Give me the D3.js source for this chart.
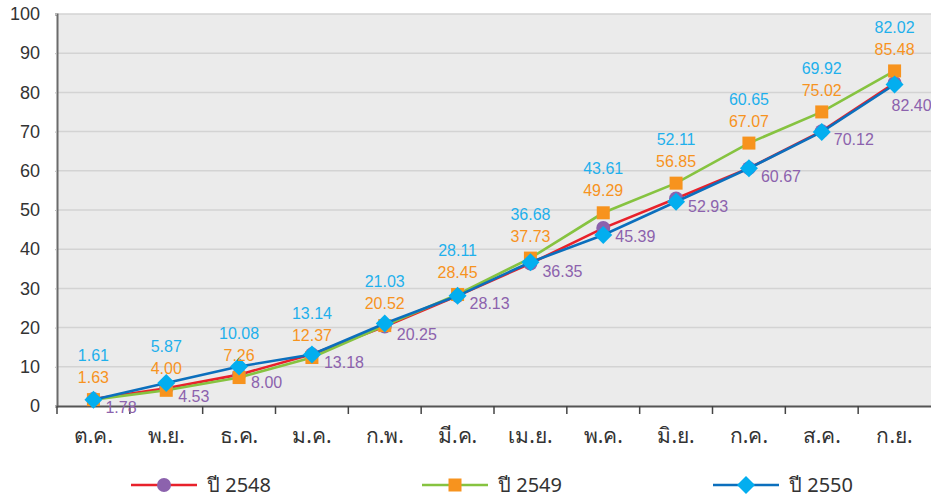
<!DOCTYPE html>
<html>
<head>
<meta charset="utf-8">
<script src="https://cdn.jsdelivr.net/npm/d3@7"></script>
<style>
  body { margin: 0; background: #fff; }
  svg { display: block; font-family: "Liberation Sans", Arial, sans-serif; }
</style>
</head>
<body>
<svg width="931" height="498"></svg>
<script>
var months = ["ต.ค.", "พ.ย.", "ธ.ค.", "ม.ค.", "ก.พ.", "มี.ค.", "เม.ย.", "พ.ค.", "มิ.ย.", "ก.ค.", "ส.ค.", "ก.ย."];
var yTicks = [0, 10, 20, 30, 40, 50, 60, 70, 80, 90, 100];
var seriesNames = ["ปี 2548", "ปี 2549", "ปี 2550"];
var y2548 = [1.78, 4.53, 8.00, 13.18, 20.25, 28.13, 36.35, 45.39, 52.93, 60.67, 70.12, 82.40];
var y2549 = [1.63, 4.00, 7.26, 12.37, 20.52, 28.45, 37.73, 49.29, 56.85, 67.07, 75.02, 85.48];
var y2550 = [1.61, 5.87, 10.08, 13.14, 21.03, 28.11, 36.68, 43.61, 52.11, 60.65, 69.92, 82.02];

var svg = d3.select("svg"),
    margin = {top: 14, right: 0, bottom: 92, left: 57},
    W = +svg.attr("width"), H = +svg.attr("height");

var x = d3.scaleBand().domain(months).range([margin.left, W - margin.right]);
var y = d3.scaleLinear().domain([0, 100]).range([H - margin.bottom, margin.top]);
var cx = function(i) { return x(months[i]) + x.bandwidth() / 2; };

var lineCol = ["#e8212b", "#86c340", "#0b6fbd"],
    markCol = ["#8c62ad", "#f7931e", "#03aeef"],
    labCol = ["#8c62ad", "#f7931e", "#1fb0ec"];

// plot background + grid
svg.append("rect")
    .attr("x", margin.left).attr("y", margin.top)
    .attr("width", W - margin.left - margin.right)
    .attr("height", y(0) - margin.top)
    .attr("fill", "#ebebeb");

svg.append("g").selectAll("line")
  .data(yTicks.filter(function(d) { return d > 0; }))
  .enter().append("line")
    .attr("x1", margin.left).attr("x2", W)
    .attr("y1", function(d) { return y(d); })
    .attr("y2", function(d) { return y(d); })
    .attr("stroke", "#d3d3d3").attr("stroke-width", 1.5);

// y axis
var yAxis = svg.append("g")
    .attr("transform", "translate(" + margin.left + ",0)")
    .call(d3.axisLeft(y).tickValues(yTicks).tickSize(2).tickPadding(15));
yAxis.select(".domain").attr("stroke", "#6b6b6b").attr("stroke-width", 2);
yAxis.selectAll(".tick line").attr("stroke", "#bbb");
yAxis.selectAll("text").attr("font-size", 18).attr("fill", "#333")
    .attr("font-family", "'Liberation Sans', Arial, sans-serif");

// x axis
var xAxis = svg.append("g")
    .attr("transform", "translate(0," + y(0) + ")")
    .call(d3.axisBottom(x).tickSize(0).tickPadding(22));
xAxis.select(".domain").attr("stroke", "#555").attr("stroke-width", 2);
xAxis.selectAll("text").attr("font-size", 21).attr("fill", "#333")
    .attr("font-family", "'Noto Sans', 'DejaVu Sans', sans-serif");
xAxis.selectAll(".bnd").data(d3.range(months.length))
  .enter().append("line")
    .attr("x1", function(i) { return x(months[i]); })
    .attr("x2", function(i) { return x(months[i]); })
    .attr("y1", 0).attr("y2", 8)
    .attr("stroke", "#444").attr("stroke-width", 1.5);

var line = d3.line()
    .x(function(d, i) { return cx(i); })
    .y(function(d) { return y(d); });

function marker(g, k, px, py) {
  if (k === 0) {
    g.append("circle").attr("cx", px).attr("cy", py).attr("r", 7).attr("fill", markCol[0]);
  } else if (k === 1) {
    g.append("rect").attr("x", px - 6.5).attr("y", py - 6.5)
      .attr("width", 13).attr("height", 13).attr("fill", markCol[1]);
  } else {
    g.append("path")
      .attr("d", "M" + px + "," + (py - 9) + "L" + (px + 9) + "," + py + "L" + px + "," + (py + 9) + "L" + (px - 9) + "," + py + "Z")
      .attr("fill", markCol[2]);
  }
}

[y2548, y2549, y2550].forEach(function(vals, k) {
  var g = svg.append("g");
  g.append("path").datum(vals)
    .attr("d", line).attr("fill", "none")
    .attr("stroke", lineCol[k]).attr("stroke-width", 2.6);
  vals.forEach(function(v, i) { marker(g, k, cx(i), y(v)); });
});

// data labels
var labels = svg.append("g").attr("font-size", 16);
y2548.forEach(function(v, i) {
  var last = i === months.length - 1;
  labels.append("text")
    .attr("x", cx(i) + (last ? -3 : 12))
    .attr("y", y(v) + (last ? 22 : 8))
    .attr("dy", "0.35em")
    .attr("fill", labCol[0])
    .text(v.toFixed(2));
});
y2549.forEach(function(v, i) {
  labels.append("text")
    .attr("x", cx(i)).attr("y", y(v) - 22)
    .attr("dy", "0.35em").attr("text-anchor", "middle")
    .attr("fill", labCol[1])
    .text(v.toFixed(2));
  labels.append("text")
    .attr("x", cx(i)).attr("y", y(v) - 44)
    .attr("dy", "0.35em").attr("text-anchor", "middle")
    .attr("fill", labCol[2])
    .text(y2550[i].toFixed(2));
});

// legend
var legend = svg.append("g").attr("transform", "translate(0,485)");
seriesNames.forEach(function(name, k) {
  var lx = 131 + k * 291;
  legend.append("line").attr("x1", lx).attr("x2", lx + 66)
    .attr("y1", 0).attr("y2", 0)
    .attr("stroke", lineCol[k]).attr("stroke-width", 2.6);
  marker(legend, k, lx + 33, 0);
  legend.append("text").attr("x", lx + 76).attr("y", 0).attr("dy", "0.35em")
    .attr("font-size", 20).attr("fill", "#333")
    .attr("font-family", "'Noto Sans', 'DejaVu Sans', sans-serif")
    .text(name);
});
</script>
</body>
</html>
